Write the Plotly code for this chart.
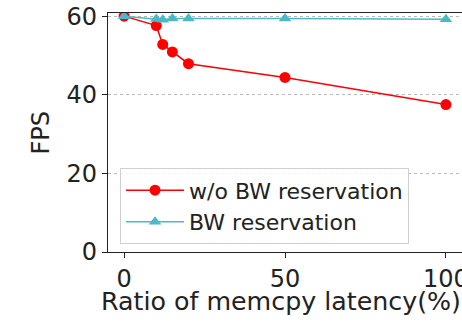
import plotly.graph_objects as go

ratio = [0, 10, 12, 15, 20, 50, 100]
fps_no_res = [60, 57.6, 52.8, 50.9, 47.9, 44.4, 37.5]
fps_res = [60, 59.3, 59.1, 59.4, 59.4, 59.4, 59.2]
x_ticks = [0, 50, 100]
y_ticks = [0, 20, 40, 60]
x_title = "Ratio of memcpy latency(%)"
y_title = "FPS"

FONT = "DejaVu Sans"

fig = go.Figure()
fig.add_trace(go.Scatter(
    x=ratio, y=fps_no_res, mode="lines+markers", name="w/o BW reservation",
    line=dict(color="#ff0000", width=1.5),
    marker=dict(symbol="circle", size=11, color="#ff0000"),
))
fig.add_trace(go.Scatter(
    x=ratio, y=fps_res, mode="lines+markers", name="BW reservation",
    line=dict(color="#4bbac6", width=1.5),
    marker=dict(symbol="triangle-up", size=11, color="#4bbac6"),
))

fig.update_layout(
    width=462, height=324,
    margin=dict(l=108, r=0, t=13, b=72),
    plot_bgcolor="white", paper_bgcolor="white",
    font=dict(family=FONT, size=22, color="#222222"),
    showlegend=True,
    legend=dict(
        x=0.034, y=0.35, xanchor="left", yanchor="top",
        bgcolor="rgba(255,255,255,0.8)", bordercolor="#d0d0d0", borderwidth=1,
        font=dict(family=FONT, size=22, color="#222222"),
        itemwidth=58, tracegroupgap=0,
    ),
    annotations=[
        dict(text=x_title, xref="paper", yref="paper", x=0.489, y=-0.209,
             xanchor="center", yanchor="middle", showarrow=False,
             font=dict(family=FONT, size=25.3, color="#222222")),
        dict(text=y_title, xref="paper", yref="paper", x=-0.192, y=0.5,
             xanchor="center", yanchor="middle", showarrow=False, textangle=-90,
             font=dict(family=FONT, size=24, color="#222222")),
    ],
)
fig.update_xaxes(
    range=[-5, 105], tickvals=x_ticks, ticktext=[str(v) for v in x_ticks],
    showline=True, linecolor="#222222", linewidth=1.2, mirror=True,
    ticks="outside", ticklen=5, tickcolor="#222222",
    showgrid=False, zeroline=False, ticklabeloverflow="allow", automargin=False,
    tickfont=dict(family=FONT, size=24),
)
fig.update_yaxes(
    range=[0, 60.8], tickvals=y_ticks,
    showline=True, linecolor="#222222", linewidth=1.2, mirror=True,
    ticks="outside", ticklen=5, tickcolor="#222222",
    showgrid=True, gridcolor="#b8b8b8", griddash="dot", gridwidth=1,
    zeroline=False, ticklabeloverflow="allow", automargin=False,
    tickfont=dict(family=FONT, size=24),
)

fig.write_html(
    "out.html",
    config={"displayModeBar": False},
    post_script="document.body.style.margin='0';document.body.style.overflow='hidden';",
)
